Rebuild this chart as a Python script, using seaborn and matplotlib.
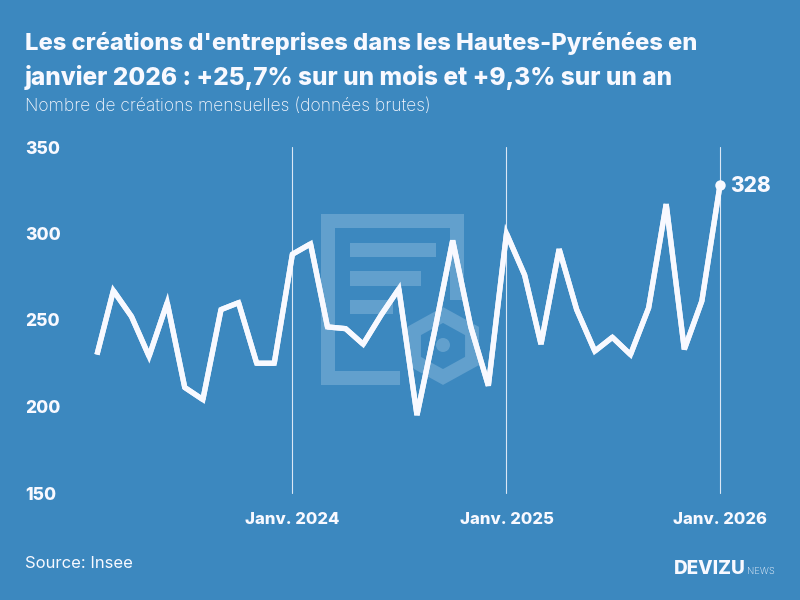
import matplotlib
matplotlib.use("Agg")
import matplotlib.pyplot as plt
import matplotlib.patches as patches
import numpy as np
import pandas as pd
import seaborn as sns

months = pd.date_range("2023-02-01", "2026-01-01", freq="MS")
creations = [230, 267, 252, 229, 260, 211, 204, 256, 260, 225, 225,
             288, 294, 246, 245, 236, 253, 268, 195, 245, 296, 246, 212,
             300, 276, 236, 291, 256, 232, 240, 230, 257, 317, 233, 261, 328]
year_ticks = pd.to_datetime(["2024-01-01", "2025-01-01", "2026-01-01"])
year_labels = ["Janv. 2024", "Janv. 2025", "Janv. 2026"]
y_ticks = [150, 200, 250, 300, 350]

BG = "#3c88bf"
MARK = "#62a0cd"
WHITE = "#f8f9ff"

sns.set_theme(style="white")
plt.rcParams["font.family"] = ["Inter", "DejaVu Sans"]

df = pd.DataFrame({"mois": months, "creations": creations})

fig = plt.figure(figsize=(8, 6), dpi=100, facecolor=BG)

# watermark, in pixel coords
bg = fig.add_axes([0, 0, 1, 1])
bg.set_xlim(0, 800)
bg.set_ylim(600, 0)
bg.axis("off")
doc = [(321, 214, 143, 14), (321, 214, 14, 171), (321, 371, 79, 14), (450, 214, 14, 86),
       (350, 243, 86, 14), (350, 271, 71, 15), (350, 300, 43, 14)]
for x, y, w, h in doc:
    bg.add_patch(patches.Rectangle((x, y), w, h, fc=MARK, ec="none"))
hex_pts = [(443, 315), (472, 331), (472, 361), (443, 377), (414, 361), (414, 331)]
bg.add_patch(patches.Polygon(hex_pts, closed=True, fc="none", ec=MARK, lw=10, joinstyle="miter"))
bg.add_patch(patches.Circle((443, 345), 7, fc=MARK, ec="none"))

ax = fig.add_axes([97 / 800, 1 - 493 / 600, (720 - 97) / 800, (493 - 147) / 600])
ax.patch.set_alpha(0)
ax.set_xlim(months[0], months[-1])
ax.set_ylim(150, 350)
for d in year_ticks:
    ax.axvline(d, color=WHITE, lw=0.8, alpha=0.85, zorder=1, clip_on=False)

# matplotlib keeps long miter spikes: cut runs where the miter ratio goes past 4, like svg
pts = ax.transData.transform(np.column_stack([matplotlib.dates.date2num(months), creations]))
runs = []
run = 0
for i in range(len(pts)):
    runs.append((i, run))
    if 0 < i < len(pts) - 1:
        a = pts[i - 1] - pts[i]
        b = pts[i + 1] - pts[i]
        theta = np.arccos(a @ b / (np.linalg.norm(a) * np.linalg.norm(b)))
        if 1 / np.sin(theta / 2) > 4:
            run += 1
            runs.append((i, run))
df_runs = df.iloc[[r[0] for r in runs]].assign(run=[r[1] for r in runs])

n_before = len(ax.lines)
sns.lineplot(data=df, x="mois", y="creations", ax=ax, color=WHITE, lw=3.8, zorder=3)
sns.lineplot(data=df_runs, x="mois", y="creations", units="run", estimator=None, ax=ax,
             color=WHITE, lw=3.8, zorder=3)
for i, line in enumerate(ax.lines[n_before:]):
    line.set_solid_joinstyle("bevel" if i == 0 else "miter")
    line.set_solid_capstyle("butt")
    line.set_clip_on(False)
ax.plot(months[-1], creations[-1], "o", ms=7.5, color=WHITE, mec="none", clip_on=False, zorder=4)
ax.annotate(str(creations[-1]), (months[-1], creations[-1]), xytext=(7.5, -0.8), textcoords="offset points",
            color=WHITE, fontsize=15, fontweight="heavy", va="center", ha="left")

ax.set_xlim(months[0], months[-1])
ax.set_ylim(150, 350)
ax.set_xticks(year_ticks)
ax.set_xticklabels(year_labels, color=WHITE, fontsize=12, fontweight="heavy")
ax.set_yticks(y_ticks)
ax.set_yticklabels(y_ticks, color=WHITE, fontsize=12.5, fontweight="heavy", ha="left")
ax.tick_params(axis="x", length=0, pad=14)
ax.tick_params(axis="y", length=0, pad=52)
ax.set_xlabel("")
ax.set_ylabel("")
sns.despine(ax=ax, left=True, bottom=True)

fig.text(25 / 800, 1 - 50 / 600, "Les créations d'entreprises dans les Hautes-Pyrénées en",
         color=WHITE, fontsize=17.07, fontweight="heavy", va="baseline")
fig.text(25 / 800, 1 - 85 / 600, "janvier 2026 : +25,7% sur un mois et +9,3% sur un an",
         color=WHITE, fontsize=17.55, fontweight="heavy", va="baseline")
fig.text(25 / 800, 1 - 111 / 600, "Nombre de créations mensuelles (données brutes)",
         color=WHITE, fontsize=12.55, fontweight="light", va="baseline")
fig.text(25 / 800, 1 - 568 / 600, "Source: Insee", color=WHITE, fontsize=12, va="baseline")
fig.text(674 / 800, 1 - 574 / 600, "DEVIZU", color=WHITE, fontsize=13.6, fontweight="heavy", va="baseline")
fig.text(747 / 800, 1 - 574 / 600, "NEWS", color=WHITE, fontsize=6.8, fontweight="light", va="baseline")

fig.savefig("out.png", dpi=100, facecolor=BG)
